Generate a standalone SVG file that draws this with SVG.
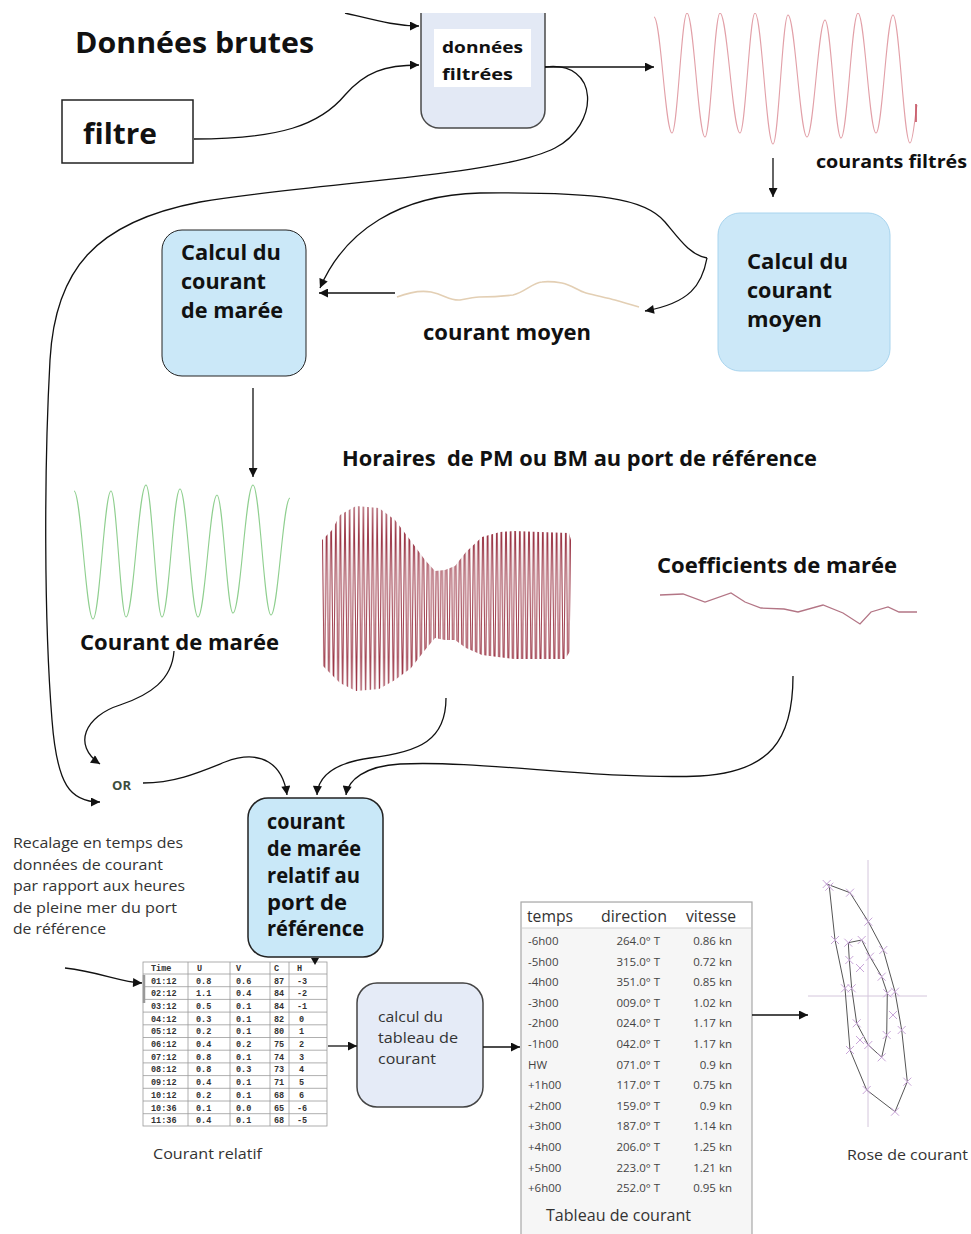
<svg xmlns="http://www.w3.org/2000/svg" xmlns:xlink="http://www.w3.org/1999/xlink" width="971" height="1234" viewBox="0 0 971 1234">
<style>
.b{font-family:"Open Sans","DejaVu Sans",sans-serif;font-weight:700;fill:#111;}
.r{font-family:"Open Sans","DejaVu Sans",sans-serif;font-weight:400;fill:#333;}
.c{fill:none;stroke:#111;stroke-width:1.3;}
.ca{fill:none;stroke:#111;stroke-width:1.3;marker-end:url(#ah);}
.m{font-family:"Liberation Mono","DejaVu Sans Mono",monospace;font-weight:700;font-size:8.5px;fill:#333;}
.t{font-family:"Open Sans","DejaVu Sans",sans-serif;font-size:11.5px;fill:#444;}
.g{stroke:#9a9a9a;stroke-width:0.8;}
.x{fill:none;stroke:#c9a6d9;stroke-width:1;}
</style>
<defs>
<marker id="ah" viewBox="0 0 10 10" refX="10" refY="5" markerWidth="10" markerHeight="9" markerUnits="userSpaceOnUse" orient="auto"><path d="M0 0 L10 5 L0 10 z" fill="#111"/></marker>
<clipPath id="crop"><rect x="0" y="13" width="971" height="1221"/></clipPath>
<clipPath id="env"><polygon points="322,540 332,530 340,515 356,506 379,508 395,520 411,541 425,560 435,571 445,570 455,566 466,552 482,537 500,532 514,531 540,532 569,533 571,540 571,650 565,659 540,659 514,659 482,655 466,648 455,640 445,640 435,638 425,650 411,668 395,680 379,689 356,691 340,683 332,675 322,665"/></clipPath>
<pattern id="zig" patternUnits="userSpaceOnUse" x="322" y="500" width="4.6" height="200"><path d="M0 0 L2.3 200 L4.6 0" fill="none" stroke="#9c3848" stroke-width="1"/></pattern>
<path id="xm" d="M-4 -4 L4 4 M-4 4 L4 -4"/>
</defs>
<rect width="971" height="1234" fill="#fff"/>

<!-- plain labels -->
<text class="b" x="75" y="53" font-size="28" textLength="239" lengthAdjust="spacingAndGlyphs">Données brutes</text>
<text class="b" x="816" y="168" font-size="17" textLength="151" lengthAdjust="spacingAndGlyphs">courants filtrés</text>
<text class="b" x="423" y="340" font-size="21" textLength="168" lengthAdjust="spacingAndGlyphs">courant moyen</text>
<text class="b" x="342" y="466" font-size="21" textLength="475" lengthAdjust="spacingAndGlyphs" xml:space="preserve">Horaires  de PM ou BM au port de référence</text>
<text class="b" x="80" y="650" font-size="21" textLength="199" lengthAdjust="spacingAndGlyphs">Courant de marée</text>
<text class="b" x="657" y="573" font-size="21" textLength="240" lengthAdjust="spacingAndGlyphs">Coefficients de marée</text>
<text class="b" x="112" y="790" font-size="13" textLength="19" lengthAdjust="spacingAndGlyphs" style="fill:#3d4d3d">OR</text>
<g class="r" font-size="15">
<text x="13" y="848" textLength="170" lengthAdjust="spacingAndGlyphs">Recalage en temps des</text>
<text x="13" y="869.5" textLength="150" lengthAdjust="spacingAndGlyphs">données de courant</text>
<text x="13" y="891" textLength="172" lengthAdjust="spacingAndGlyphs">par rapport aux heures</text>
<text x="13" y="912.5" textLength="164" lengthAdjust="spacingAndGlyphs">de pleine mer du port</text>
<text x="13" y="934" textLength="93" lengthAdjust="spacingAndGlyphs">de référence</text>
<text x="153" y="1159" textLength="109" lengthAdjust="spacingAndGlyphs">Courant relatif</text>
<text x="847" y="1160" textLength="121" lengthAdjust="spacingAndGlyphs">Rose de courant</text>
</g>

<!-- waves -->
<g clip-path="url(#crop)">
<path d="M654 17 C 660.7 17, 665.3 133, 672 133 C 677.5 133, 681.5 13, 687 13 C 693.7 13, 698.3 137, 705 137 C 710.5 137, 714.5 13, 720 13 C 727.4 13, 732.6 133, 740 133 C 745.5 133, 749.5 13, 755 13 C 761.7 13, 766.3 144, 773 144 C 778.5 144, 782.5 15, 788 15 C 795 15, 800 137, 807 137 C 813.7 137, 818.3 20, 825 20 C 830.9 20, 835.1 138, 841 138 C 847.3 138, 851.7 13, 858 13 C 864.7 13, 869.3 133, 876 133 C 882.3 133, 886.7 15, 893 15 C 899.3 15, 903.7 143, 910 143 C 913 143, 915 115, 917 105" fill="none" stroke="#e2a0a8" stroke-width="1.1"/>
<path d="M916 104 L916 122" stroke="#c45060" stroke-width="1.6"/>
</g>
<path d="M397 297 C 410 292, 420 290, 431 292 C 445 295, 450 301, 460 300 C 470 298, 475 297, 479 297 C 495 297, 505 296, 513 295 C 525 292, 532 283, 542 282 C 550 281, 556 282, 562 283 C 572 285, 578 291, 586 293 C 598 296, 608 298, 615 300 C 625 303, 632 305, 639 307" fill="none" stroke="#e3cfb4" stroke-width="1.6"/>
<path d="M74 491 C 81 491, 86 619, 93 619 C 99.7 619, 104.3 491, 111 491 C 116.5 491, 120.5 617, 126 617 C 133.4 617, 138.6 485, 146 485 C 151.9 485, 156.1 617, 162 617 C 168.7 617, 173.3 489, 180 489 C 186.7 489, 191.3 617, 198 617 C 205 617, 210 495, 217 495 C 222.9 495, 227.1 613, 233 613 C 240.4 613, 245.6 485, 253 485 C 259.7 485, 264.3 615, 271 615 C 278 615, 283 498, 290 498" fill="none" stroke="#8fcf8f" stroke-width="1.1"/>
<rect x="320" y="500" width="254" height="200" fill="url(#zig)" clip-path="url(#env)"/>
<polyline points="660,595 683,594 705,602 731,593 745,602 761,608 784,609 798,612 823,605 843,613 860,624 871,612 888,607 899,612 917,612" fill="none" stroke="#b37585" stroke-width="1.3"/>

<!-- nodes -->
<g id="filtre">
<rect x="62" y="100" width="131" height="63" fill="#fff" stroke="#222" stroke-width="1.5"/>
<text class="b" x="83" y="144" font-size="28" textLength="74" lengthAdjust="spacingAndGlyphs">filtre</text>
</g>
<g id="donnees-filtrees" clip-path="url(#crop)">
<rect x="421" y="-10" width="124" height="138" rx="18" fill="#e3e9f5" stroke="#4a4a4a" stroke-width="1.5"/>
<rect x="434" y="29" width="97" height="58" fill="#fff"/>
<text class="b" x="442" y="53" font-size="16.5" textLength="81" lengthAdjust="spacingAndGlyphs">données</text>
<text class="b" x="442" y="80" font-size="16.5" textLength="71" lengthAdjust="spacingAndGlyphs">filtrées</text>
</g>
<g id="calcul-maree">
<rect x="162" y="230" width="144" height="146" rx="20" fill="#cbe8f8" stroke="#222" stroke-width="1"/>
<text class="b" x="181" y="260" font-size="21" textLength="100" lengthAdjust="spacingAndGlyphs">Calcul du</text>
<text class="b" x="181" y="289" font-size="21" textLength="85" lengthAdjust="spacingAndGlyphs">courant</text>
<text class="b" x="181" y="318" font-size="21" textLength="102" lengthAdjust="spacingAndGlyphs">de marée</text>
</g>
<g id="calcul-moyen">
<rect x="718" y="213" width="172" height="158" rx="22" fill="#cce8f8" stroke="#a8d4ee" stroke-width="1"/>
<text class="b" x="747" y="269" font-size="21" textLength="101" lengthAdjust="spacingAndGlyphs">Calcul du</text>
<text class="b" x="747" y="298" font-size="21" textLength="85" lengthAdjust="spacingAndGlyphs">courant</text>
<text class="b" x="747" y="327" font-size="21" textLength="75" lengthAdjust="spacingAndGlyphs">moyen</text>
</g>
<g id="courant-relatif-port">
<rect x="248" y="798" width="135" height="159" rx="20" fill="#c9e8f8" stroke="#222" stroke-width="1.5"/>
<text class="b" x="267" y="829" font-size="21" textLength="78" lengthAdjust="spacingAndGlyphs">courant</text>
<text class="b" x="267" y="856" font-size="21" textLength="94" lengthAdjust="spacingAndGlyphs">de marée</text>
<text class="b" x="267" y="883" font-size="21" textLength="93" lengthAdjust="spacingAndGlyphs">relatif au</text>
<text class="b" x="267" y="910" font-size="21" textLength="80" lengthAdjust="spacingAndGlyphs">port de</text>
<text class="b" x="267" y="936" font-size="21" textLength="97" lengthAdjust="spacingAndGlyphs">référence</text>
</g>
<g id="calcul-tableau">
<rect x="357" y="983" width="126" height="124" rx="20" fill="#e5ebf7" stroke="#444" stroke-width="1.5"/>
<text class="r" x="378" y="1022" font-size="15" textLength="65" lengthAdjust="spacingAndGlyphs">calcul du</text>
<text class="r" x="378" y="1043" font-size="15" textLength="80" lengthAdjust="spacingAndGlyphs">tableau de</text>
<text class="r" x="378" y="1064" font-size="15" textLength="58" lengthAdjust="spacingAndGlyphs">courant</text>
</g>

<g id="table-relatif">
<rect x="143" y="962" width="184" height="164" fill="#fff" stroke="#9a9a9a" stroke-width="0.8"/>
<g class="g">
<line x1="188" y1="962" x2="188" y2="1126"/><line x1="230" y1="962" x2="230" y2="1126"/><line x1="270" y1="962" x2="270" y2="1126"/><line x1="289" y1="962" x2="289" y2="1126"/>
<line x1="143" y1="974" x2="327" y2="974"/><line x1="143" y1="986.7" x2="327" y2="986.7"/><line x1="143" y1="999.4" x2="327" y2="999.4"/><line x1="143" y1="1012.1" x2="327" y2="1012.1"/><line x1="143" y1="1024.8" x2="327" y2="1024.8"/><line x1="143" y1="1037.5" x2="327" y2="1037.5"/><line x1="143" y1="1050.2" x2="327" y2="1050.2"/><line x1="143" y1="1062.9" x2="327" y2="1062.9"/><line x1="143" y1="1075.6" x2="327" y2="1075.6"/><line x1="143" y1="1088.3" x2="327" y2="1088.3"/><line x1="143" y1="1101" x2="327" y2="1101"/><line x1="143" y1="1113.7" x2="327" y2="1113.7"/>
</g>
<line x1="144" y1="975" x2="144" y2="1003" stroke="#999" stroke-width="2.5"/>
<g class="m">
<text x="151" y="971">Time</text><text x="197" y="971">U</text><text x="236" y="971">V</text><text x="274" y="971">C</text><text x="297" y="971">H</text>
<text x="151" y="983.5">01:12</text><text x="196" y="983.5">0.8</text><text x="236" y="983.5">0.6</text><text x="274" y="983.5">87</text><text x="297" y="983.5">-3</text>
<text x="151" y="996.2">02:12</text><text x="196" y="996.2">1.1</text><text x="236" y="996.2">0.4</text><text x="274" y="996.2">84</text><text x="297" y="996.2">-2</text>
<text x="151" y="1008.9">03:12</text><text x="196" y="1008.9">0.5</text><text x="236" y="1008.9">0.1</text><text x="274" y="1008.9">84</text><text x="297" y="1008.9">-1</text>
<text x="151" y="1021.6">04:12</text><text x="196" y="1021.6">0.3</text><text x="236" y="1021.6">0.1</text><text x="274" y="1021.6">82</text><text x="299" y="1021.6">0</text>
<text x="151" y="1034.3">05:12</text><text x="196" y="1034.3">0.2</text><text x="236" y="1034.3">0.1</text><text x="274" y="1034.3">80</text><text x="299" y="1034.3">1</text>
<text x="151" y="1047">06:12</text><text x="196" y="1047">0.4</text><text x="236" y="1047">0.2</text><text x="274" y="1047">75</text><text x="299" y="1047">2</text>
<text x="151" y="1059.7">07:12</text><text x="196" y="1059.7">0.8</text><text x="236" y="1059.7">0.1</text><text x="274" y="1059.7">74</text><text x="299" y="1059.7">3</text>
<text x="151" y="1072.4">08:12</text><text x="196" y="1072.4">0.8</text><text x="236" y="1072.4">0.3</text><text x="274" y="1072.4">73</text><text x="299" y="1072.4">4</text>
<text x="151" y="1085.1">09:12</text><text x="196" y="1085.1">0.4</text><text x="236" y="1085.1">0.1</text><text x="274" y="1085.1">71</text><text x="299" y="1085.1">5</text>
<text x="151" y="1097.8">10:12</text><text x="196" y="1097.8">0.2</text><text x="236" y="1097.8">0.1</text><text x="274" y="1097.8">68</text><text x="299" y="1097.8">6</text>
<text x="151" y="1110.5">10:36</text><text x="196" y="1110.5">0.1</text><text x="236" y="1110.5">0.0</text><text x="274" y="1110.5">65</text><text x="297" y="1110.5">-6</text>
<text x="151" y="1123.2">11:36</text><text x="196" y="1123.2">0.4</text><text x="236" y="1123.2">0.1</text><text x="274" y="1123.2">68</text><text x="297" y="1123.2">-5</text>
</g>
</g>

<g id="tableau-courant">
<rect x="521" y="902" width="231" height="340" fill="#f6f6f6" stroke="#a8a8a8" stroke-width="1.2"/>
<rect x="522" y="903" width="229" height="25" fill="#fff"/>
<line x1="522" y1="928" x2="751" y2="928" stroke="#d0d0d0" stroke-width="1"/>
<g class="r" font-size="16">
<text x="527" y="922" textLength="46" lengthAdjust="spacingAndGlyphs">temps</text>
<text x="601" y="922" textLength="66" lengthAdjust="spacingAndGlyphs">direction</text>
<text x="686" y="922" textLength="50" lengthAdjust="spacingAndGlyphs">vitesse</text>
</g>
<g class="t">
<text x="528" y="945">-6h00</text><text x="528" y="965.6">-5h00</text><text x="528" y="986.2">-4h00</text><text x="528" y="1006.8">-3h00</text><text x="528" y="1027.4">-2h00</text><text x="528" y="1048">-1h00</text><text x="528" y="1068.6">HW</text><text x="528" y="1089.2">+1h00</text><text x="528" y="1109.8">+2h00</text><text x="528" y="1130.4">+3h00</text><text x="528" y="1151">+4h00</text><text x="528" y="1171.6">+5h00</text><text x="528" y="1192.2">+6h00</text>
</g>
<g class="t" text-anchor="end">
<text x="660" y="945">264.0° T</text><text x="660" y="965.6">315.0° T</text><text x="660" y="986.2">351.0° T</text><text x="660" y="1006.8">009.0° T</text><text x="660" y="1027.4">024.0° T</text><text x="660" y="1048">042.0° T</text><text x="660" y="1068.6">071.0° T</text><text x="660" y="1089.2">117.0° T</text><text x="660" y="1109.8">159.0° T</text><text x="660" y="1130.4">187.0° T</text><text x="660" y="1151">206.0° T</text><text x="660" y="1171.6">223.0° T</text><text x="660" y="1192.2">252.0° T</text>
<text x="732" y="945">0.86 kn</text><text x="732" y="965.6">0.72 kn</text><text x="732" y="986.2">0.85 kn</text><text x="732" y="1006.8">1.02 kn</text><text x="732" y="1027.4">1.17 kn</text><text x="732" y="1048">1.17 kn</text><text x="732" y="1068.6">0.9 kn</text><text x="732" y="1089.2">0.75 kn</text><text x="732" y="1109.8">0.9 kn</text><text x="732" y="1130.4">1.14 kn</text><text x="732" y="1151">1.25 kn</text><text x="732" y="1171.6">1.21 kn</text><text x="732" y="1192.2">0.95 kn</text>
</g>
<text class="r" x="546" y="1221" font-size="15.5" textLength="145" lengthAdjust="spacingAndGlyphs">Tableau de courant</text>
</g>

<g id="rose">
<line x1="868" y1="860" x2="868" y2="1127" stroke="#d4c6dc" stroke-width="1"/>
<line x1="808" y1="996" x2="927" y2="996" stroke="#d4c6dc" stroke-width="1"/>
<polygon points="826.7,884 850,892.7 868.3,921.7 883.3,950 895,991.7 901.7,1030 907.3,1081.7 895,1111.7 866.7,1090 850,1050 845,988.3 835,940 829.3,886.7" fill="none" stroke="#555" stroke-width="1"/>
<polygon points="848.3,942.7 861.7,940 870,956.7 881.7,976.7 887.3,993.3 886.7,1035 881.7,1057.3 868.3,1045 856.7,1023.3 851.7,988.3 849.3,960" fill="none" stroke="#555" stroke-width="1"/>
<g class="x">
<use xlink:href="#xm" x="826.7" y="884"/><use xlink:href="#xm" x="850" y="892.7"/><use xlink:href="#xm" x="868.3" y="921.7"/><use xlink:href="#xm" x="883.3" y="950"/><use xlink:href="#xm" x="895" y="991.7"/><use xlink:href="#xm" x="901.7" y="1030"/><use xlink:href="#xm" x="907.3" y="1081.7"/><use xlink:href="#xm" x="895" y="1111.7"/><use xlink:href="#xm" x="866.7" y="1090"/><use xlink:href="#xm" x="850" y="1050"/><use xlink:href="#xm" x="845" y="988.3"/><use xlink:href="#xm" x="835" y="940"/><use xlink:href="#xm" x="829.3" y="886.7"/>
<use xlink:href="#xm" x="848.3" y="942.7"/><use xlink:href="#xm" x="861.7" y="940"/><use xlink:href="#xm" x="870" y="956.7"/><use xlink:href="#xm" x="881.7" y="976.7"/><use xlink:href="#xm" x="887.3" y="993.3"/><use xlink:href="#xm" x="886.7" y="1035"/><use xlink:href="#xm" x="881.7" y="1057.3"/><use xlink:href="#xm" x="868.3" y="1045"/><use xlink:href="#xm" x="856.7" y="1023.3"/><use xlink:href="#xm" x="851.7" y="988.3"/><use xlink:href="#xm" x="849.3" y="960"/>
<use xlink:href="#xm" x="860" y="968"/><use xlink:href="#xm" x="893" y="1015"/><use xlink:href="#xm" x="860" y="1040"/>
</g>
</g>

<g id="connectors">
<path class="ca" clip-path="url(#crop)" d="M345 13 C 375 20, 395 26, 419 26"/>
<path class="ca" d="M194 139 C 280 139, 320 125, 345 95 C 365 72, 385 65, 419 65"/>
<path class="ca" d="M545 67 L 654 67"/>
<path class="ca" d="M545 67 C 600 60, 600 125, 555 148 C 500 176, 320 182, 200 202 C 95 222, 55 270, 50 360 C 44 470, 44 620, 52 720 C 57 785, 70 802, 100 802"/>
<path class="ca" d="M773 158 L773 197"/>
<path class="ca" d="M707 258 C 690 255, 680 240, 665 222 C 645 198, 600 192, 480 193 C 400 195, 345 230, 320 288"/>
<path class="ca" d="M707 258 C 702 285, 690 303, 645 311"/>
<path class="ca" d="M395 293 L 319 293"/>
<path class="ca" d="M253 388 L253 477"/>
<path class="ca" d="M174 651 C 172 680, 150 695, 120 705 C 85 716, 72 745, 100 764"/>
<path class="ca" d="M143 783 C 175 783, 200 772, 225 762 C 262 748, 283 765, 287 795"/>
<path class="ca" d="M446 698 C 446 740, 420 752, 370 758 C 335 763, 318 775, 317 795"/>
<path class="ca" d="M793 676 C 793 740, 770 772, 700 776 C 600 780, 480 760, 400 764 C 365 766, 348 780, 346 795"/>
<path class="ca" d="M65 968 C 100 972, 120 982, 142 983"/>
<path class="ca" d="M328 1046 L 357 1046"/>
<path class="ca" d="M483 1047 L 520 1047"/>
<path class="ca" d="M752 1015 L 808 1015"/>
<polygon points="311,958 319,958 315,965" fill="#111"/>
</g>
</svg>
